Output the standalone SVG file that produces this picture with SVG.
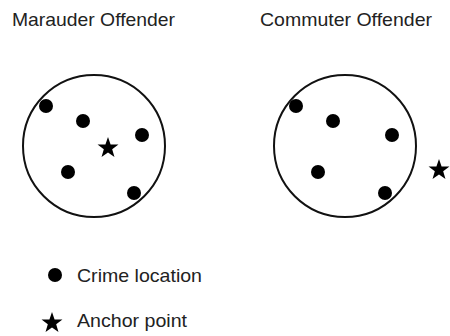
<svg xmlns="http://www.w3.org/2000/svg" xmlns:xlink="http://www.w3.org/1999/xlink" width="450" height="336" viewBox="0 0 450 336">
  <style>
    .lbl { font-family: "Liberation Sans", Arial, sans-serif; font-size: 19px; fill: #222; }
    .ring { fill: none; stroke: #111; stroke-width: 2; }
    .dot { fill: #000; }
    .star { fill: #000; }
  </style>
  <defs>
    <path id="star" d="M0,-11 L2.59,-3.56 L10.46,-3.4 L4.18,1.36 L6.47,8.9 L0,4.4 L-6.47,8.9 L-4.18,1.36 L-10.46,-3.4 L-2.59,-3.56 Z"/>
  </defs>
  <rect width="450" height="336" fill="#fff"/>

  <g id="marauder">
    <text class="lbl" x="12" y="26" textLength="163" lengthAdjust="spacingAndGlyphs">Marauder Offender</text>
    <circle class="ring" cx="94" cy="146" r="71"/>
    <circle class="dot" cx="46" cy="106" r="7"/>
    <circle class="dot" cx="83" cy="121" r="7"/>
    <circle class="dot" cx="142" cy="135" r="7"/>
    <circle class="dot" cx="68" cy="172" r="7"/>
    <circle class="dot" cx="134" cy="193" r="7"/>
    <use class="star" xlink:href="#star" href="#star" x="108" y="148"/>
  </g>

  <g id="commuter">
    <text class="lbl" x="260" y="26" textLength="172" lengthAdjust="spacingAndGlyphs">Commuter Offender</text>
    <circle class="ring" cx="345" cy="146" r="71"/>
    <circle class="dot" cx="296" cy="106" r="7"/>
    <circle class="dot" cx="333" cy="121" r="7"/>
    <circle class="dot" cx="392" cy="135" r="7"/>
    <circle class="dot" cx="318" cy="172" r="7"/>
    <circle class="dot" cx="385" cy="193" r="7"/>
    <use class="star" xlink:href="#star" href="#star" x="439" y="170"/>
  </g>

  <g id="legend">
    <circle class="dot" cx="55" cy="275" r="7"/>
    <text class="lbl" x="77" y="282" textLength="125" lengthAdjust="spacingAndGlyphs">Crime location</text>
    <use class="star" xlink:href="#star" href="#star" x="52" y="323"/>
    <text class="lbl" x="77" y="327" textLength="110" lengthAdjust="spacingAndGlyphs">Anchor point</text>
  </g>
</svg>
